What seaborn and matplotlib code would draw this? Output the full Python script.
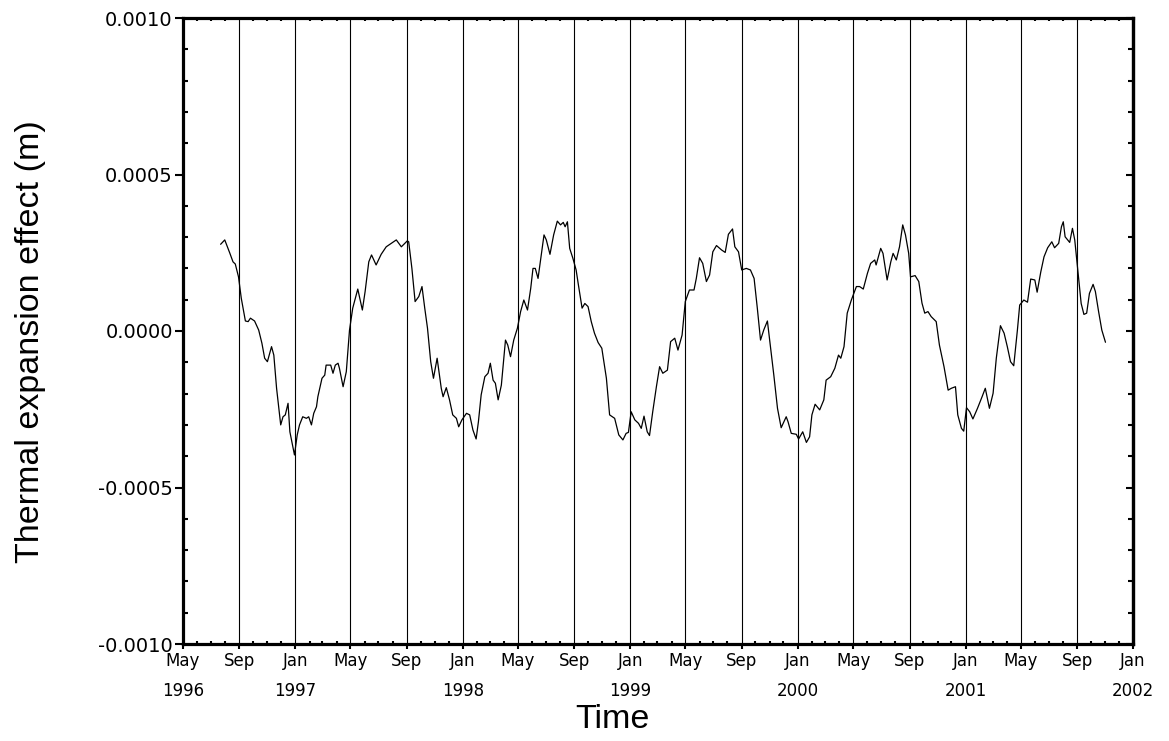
import numpy as np
import pandas as pd
import matplotlib
matplotlib.use("Agg")
import matplotlib.pyplot as plt
import matplotlib.dates as mdates
from matplotlib.ticker import FixedLocator, FixedFormatter, MultipleLocator
import seaborn as sns

# ---------------- data ----------------
series_start = "1996-07-22"
day_offsets = [
    0, 9, 20, 27, 32, 39, 45, 54, 60, 65, 74, 83, 90, 96, 102, 111, 116, 122, 131, 136,
    141, 147, 151, 161, 167, 172, 179, 187, 192, 198, 203, 209, 212, 221, 227, 230, 240, 245, 250, 256,
    259, 267, 274, 281, 288, 299, 309, 315, 323, 329, 339, 350, 361, 372, 383, 394, 407,
    410, 417, 424, 432, 439, 445, 451, 458, 464, 472, 481, 485, 492, 499, 506, 514, 519, 526, 536,
    543, 550, 557, 562, 568, 576, 583, 588, 594, 599, 605, 612, 621, 626, 632, 639, 647, 654, 661, 669,
    676, 681, 686, 692, 698, 705, 710, 718, 726, 734, 741, 747, 751, 756, 761, 768, 775, 780, 788, 794,
    801, 808, 815, 823,
    831, 841, 848, 859, 868, 877, 884, 889, 895, 903, 911, 917, 923, 930, 935, 942, 950, 957, 964, 974,
    981, 990, 997, 1006, 1013, 1022, 1032, 1037, 1044, 1051, 1059, 1066, 1073, 1081, 1092, 1100, 1107,
    1116, 1121, 1129, 1136, 1146, 1155, 1163, 1170, 1177, 1184, 1192, 1199, 1206, 1214, 1222, 1233,
    1237, 1244, 1255, 1260, 1269, 1277, 1284, 1289, 1296, 1306, 1315, 1320, 1330, 1339, 1347, 1352,
    1359, 1366, 1375, 1386, 1393, 1401, 1410, 1417, 1426, 1429, 1439, 1444, 1453, 1461, 1466, 1473,
    1480, 1487, 1493, 1500, 1504, 1514, 1522, 1529, 1535, 1542, 1549, 1560, 1567, 1577, 1586, 1593,
    1602, 1607, 1615, 1620, 1626, 1633, 1640, 1650,
    1660, 1667, 1676, 1684, 1691, 1700, 1708, 1715, 1722, 1729, 1737, 1742, 1751, 1759, 1766, 1775,
    1780, 1788, 1795, 1803, 1812, 1818, 1827, 1833, 1837, 1841, 1851, 1857, 1862, 1869, 1876, 1882,
    1888, 1894, 1902, 1907, 1914, 1921, 1929,
]
# thermal expansion effect in micrometres
thermal_um = [
    277, 291, 249, 221, 214, 173, 105, 32, 30, 41, 32, 3, -39, -87, -98, -50, -77, -183, -300, -274,
    -268, -231, -322, -396, -332, -300, -274, -279, -274, -300, -263, -242, -210, -151, -141, -109, -109, -135, -109, -103,
    -119, -178, -130, 3, 73, 134, 67, 126, 221, 243, 211, 245, 269, 280, 291, 269, 288,
    285, 200, 94, 110, 142, 73, 9, -98, -151, -87, -183, -210, -181, -220, -268, -279, -306, -284, -263,
    -268, -316, -345, -290, -204, -146, -135, -103, -157, -167, -220, -173, -29, -45, -82, -29, 9, 62, 99, 67,
    136, 200, 200, 168, 232, 307, 291, 245, 307, 351, 339, 347, 333, 349, 264, 232, 195, 147, 73, 88,
    78, 30, -7, -37,
    -55, -151, -268, -279, -332, -348, -327, -324, -258, -284, -295, -311, -272, -322, -334, -258, -178, -114, -135, -125,
    -34, -23, -61, -13, 94, 131, 131, 168, 234, 216, 158, 179, 253, 273, 259, 251, 309,
    326, 269, 253, 195, 200, 195, 168, 73, -29, 3, 32, -55, -141, -247, -309, -274,
    -290, -327, -330, -345, -322, -356, -338, -268, -234, -252, -220, -157, -146, -119, -77, -87,
    -50, 57, 99, 142, 142, 134, 184, 216, 227, 211, 264, 248, 163, 221, 248, 227,
    269, 339, 307, 248, 173, 177, 158, 89, 57, 62, 46, 30, -45, -114, -189, -183,
    -178, -268, -311, -320, -245, -258, -281, -247,
    -210, -183, -247, -199, -87, 17, -7, -50, -98, -111, 3, 83, 99, 92, 166, 163,
    124, 189, 237, 266, 285, 266, 280, 333, 349, 301, 283, 328, 291, 189, 88, 53,
    57, 120, 149, 126, 62, 3, -36,
]
assert len(day_offsets) == len(thermal_um)

x_start, x_end = "1996-05-01", "2002-01-01"
x_tick_labels = ["May\n1996", "Sep", "Jan\n1997", "May", "Sep", "Jan\n1998", "May", "Sep",
                 "Jan\n1999", "May", "Sep", "Jan\n2000", "May", "Sep", "Jan\n2001", "May",
                 "Sep", "Jan\n2002"]
y_ticks = [-0.0010, -0.0005, 0.0, 0.0005, 0.0010]
y_tick_labels = ["-0.0010", "-0.0005", "0.0000", "0.0005", "0.0010"]

dates = pd.to_datetime(series_start) + pd.to_timedelta(day_offsets, unit="D")
df = pd.DataFrame({"date": dates, "effect": np.array(thermal_um) * 1e-6})

# ---------------- plot ----------------
sns.set_theme(style="ticks")
plt.rcParams["font.family"] = ["DejaVu Sans"]

fig = plt.figure(figsize=(11.69, 7.41), dpi=100)
ax = fig.add_axes([183 / 1169, 1 - 644 / 741, 950 / 1169, 626 / 741])

sns.lineplot(data=df, x="date", y="effect", color="black", linewidth=0.9, ax=ax)

major_dates = pd.date_range(x_start, x_end, freq="4MS")
minor_dates = pd.date_range(x_start, x_end, freq="MS")

for d in major_dates[1:-1]:
    ax.axvline(d, color="black", linewidth=0.8, zorder=1)

ax.set_xlim(pd.Timestamp(x_start), pd.Timestamp(x_end))
ax.set_ylim(-0.0010, 0.0010)

ax.xaxis.set_major_locator(FixedLocator(mdates.date2num(major_dates)))
ax.xaxis.set_major_formatter(FixedFormatter(x_tick_labels))
ax.xaxis.set_minor_locator(FixedLocator(mdates.date2num(minor_dates)))
ax.yaxis.set_major_locator(FixedLocator(y_ticks))
ax.yaxis.set_major_formatter(FixedFormatter(y_tick_labels))
ax.yaxis.set_minor_locator(MultipleLocator(0.0001))

ax.tick_params(axis="both", which="major", direction="out", width=1.5, colors="black",
               top=False, right=False)
ax.tick_params(axis="x", which="major", length=3.6, pad=2, labelsize=12)
ax.tick_params(axis="y", which="major", length=5.8, pad=1.5, labelsize=14)
ax.tick_params(axis="both", which="minor", direction="in", width=1.5, colors="black",
               top=True, right=True)
ax.tick_params(axis="x", which="minor", length=2.2)
ax.tick_params(axis="y", which="minor", length=3.5)

sec = ax.secondary_yaxis("right")
sec.set_yticks(y_ticks)
sec.tick_params(direction="in", length=5.2, width=1.5, colors="black", labelright=False)
sec.spines["right"].set_linewidth(2.3)
sec.spines["right"].set_color("black")

for s in ax.spines.values():
    s.set_linewidth(2.3)
    s.set_color("black")

plt.setp(ax.get_xticklabels(), linespacing=1.85)

ax.set_xlabel("Time", fontsize=24.5, family=["Liberation Sans"], color="black")
ax.xaxis.set_label_coords(0.452, -0.096)
ax.set_ylabel("Thermal expansion effect (m)", fontsize=24.5, family=["Liberation Sans"],
              color="black")
ax.yaxis.set_label_coords(-0.144, 0.483)

fig.savefig("out.png", dpi=100, facecolor="white")
